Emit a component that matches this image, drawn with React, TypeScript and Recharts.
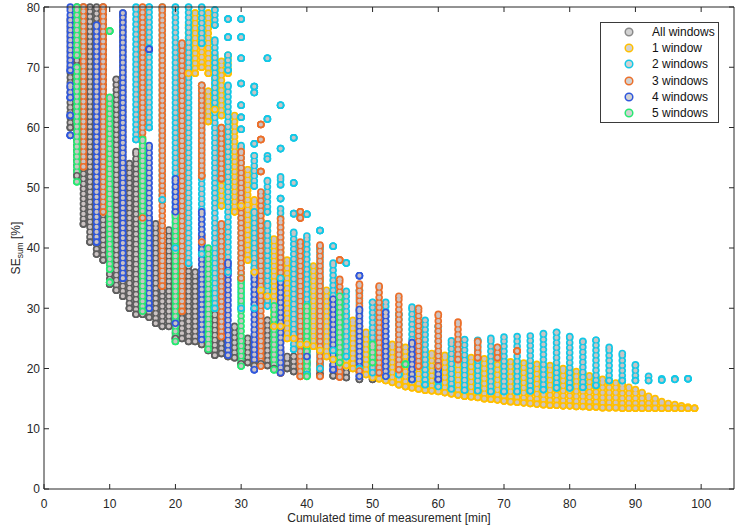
import React from 'react';
import { ScatterChart, Scatter, XAxis, YAxis, ErrorBar } from 'recharts';

type Seg = [number, number, number]; // [x, lowest y, highest y] of a column of markers

const xTicks = [0, 10, 20, 30, 40, 50, 60, 70, 80, 90, 100];
const yTicks = [0, 10, 20, 30, 40, 50, 60, 70, 80];
const seriesNames = ['All windows', '1 window', '2 windows', '3 windows', '4 windows', '5 windows'];
const seriesColors = ['#5e5e5e', '#ffbf00', '#12c8e6', '#ec6f2a', '#2f57dc', '#28e872'];
const legendColors = ['#8a8a8a', '#ffbf00', '#12c8e6', '#ec6f2a', '#2f57dc', '#28e872'];
const FILL = '#cbc3c3';

const allWindows: Seg[] = [
  [4, 60, 78], [5, 52, 80], [6, 44, 80], [7, 41, 80], [8, 39, 80], [9, 38, 80], [10, 34, 50], [11, 33, 68],
  [12, 32, 79], [13, 30, 54], [14, 29, 56], [15, 29, 45], [16, 28.5, 45], [17, 27.5, 44], [18, 27, 40],
  [19, 27, 43], [20, 25, 40], [21, 25, 35], [22, 24.5, 37], [23, 24.5, 36], [24, 24, 35], [25, 23, 33],
  [26, 22.2, 29], [27, 22.5, 28], [28, 22, 26], [29, 21.8, 27], [30, 20.8, 25], [31, 21, 25], [32, 20.5, 24],
  [33, 20.8, 24], [34, 20.5, 28], [35, 20, 23], [36, 19.3, 23], [37, 20, 22], [38, 19.5, 22], [40, 19, 21],
  [42, 19, 21], [44, 18.8, 20.5], [46, 18.5, 20], [48, 18.2, 20], [50, 18.2, 19.5],
];

const oneWindow: Seg[] = [
  [22, 69, 77], [23, 69, 79], [24, 70, 76], [25, 69, 79], [25, 61, 66], [26, 63, 72], [27, 62, 71], [27, 47, 60],
  [28, 69, 72], [29, 46, 62], [30, 47, 53], [31, 38, 53], [32, 36, 48], [33, 33, 46], [34, 32, 44], [35, 27, 41.5],
  [36, 27, 40], [37, 25, 38], [38, 25, 37], [39, 24, 36], [40, 24, 36], [41, 23.7, 37], [42, 23, 35], [43, 22, 33],
  [44, 21.5, 32], [45, 21, 30], [46, 20.5, 29], [47, 20, 28], [48, 19.5, 27], [49, 19, 26], [50, 18.5, 25],
  [51, 18.3, 24.5], [52, 18, 24.2], [53, 17.7, 24], [54, 17.3, 23.8], [55, 17, 23.5], [56, 16.8, 23.3],
  [57, 16.6, 23], [58, 16.4, 22.8], [59, 16.3, 22.5], [60, 16.2, 22.3], [61, 16, 22.2], [62, 15.8, 22.1],
  [63, 15.6, 22], [64, 15.4, 22], [65, 15.3, 21.8], [66, 15.2, 21.7], [67, 15, 21.6], [68, 14.9, 21.5],
  [69, 14.8, 21.4], [70, 14.6, 21.3], [71, 14.5, 21.1], [72, 14.4, 21], [73, 14.3, 20.9], [74, 14.2, 20.8],
  [75, 14.1, 20.7], [76, 14, 20.6], [77, 13.9, 20.5], [78, 13.9, 20.3], [79, 13.8, 20], [80, 13.8, 19.8],
  [81, 13.7, 19.5], [82, 13.7, 19.2], [83, 13.6, 18.8], [84, 13.6, 18.5], [85, 13.5, 18.2], [86, 13.5, 17.9],
  [87, 13.5, 17.6], [88, 13.4, 17.3], [89, 13.4, 16.9], [90, 13.4, 16.5], [91, 13.4, 16], [92, 13.4, 15.4],
  [93, 13.4, 15], [94, 13.4, 14.5], [95, 13.4, 14.2], [96, 13.4, 14], [97, 13.4, 13.8], [98, 13.4, 13.6],
  [99, 13.4, 13.4],
];

const twoWindows: Seg[] = [
  [14, 58, 80], [16, 60, 80], [18, 48, 80], [20, 40, 80], [22, 37.5, 80], [24, 74, 80], [24, 39, 67],
  [26, 77, 79.5], [26, 30, 74.5], [28, 78, 78], [28, 75, 75], [28, 69.5, 72], [28, 36, 67],
  [30, 78, 78], [30, 75, 75], [30, 71.5, 71.5], [30, 67.3, 67.3], [30, 63.7, 63.7], [30, 61.7, 61.7],
  [30, 59.7, 59.7], [30, 30, 57], [32, 66.8, 66.8], [32, 65.8, 65.8], [32, 57.3, 57.3], [32, 50.3, 55.3],
  [32, 30, 46], [34, 71.5, 71.5], [34, 61.4, 61.4], [34, 54.8, 55.3], [34, 46, 51.2], [34, 30.4, 44],
  [36, 63.7, 63.7], [36, 56.5, 56.5], [36, 50.5, 51.8], [36, 48.2, 48.2], [36, 35, 46.5],
  [38, 58.3, 58.3], [38, 50.8, 50.8], [38, 45.7, 45.7], [38, 23.2, 42.6], [40, 45.6, 45.6], [40, 19, 42],
  [42, 42.9, 42.9], [42, 20, 40], [44, 40.3, 40.3], [44, 23, 37.5], [46, 37.5, 37.5], [46, 22, 32.8],
  [48, 20, 33], [50, 19.3, 31], [52, 18.7, 31], [54, 19, 29], [56, 18.2, 30.2], [58, 17.3, 28], [60, 17, 27],
  [62, 16.6, 24.6], [64, 16.4, 24.8], [66, 16.3, 24.7], [68, 16.2, 25], [70, 16.2, 25.2], [72, 16.2, 25.3],
  [74, 16.3, 25.4], [76, 16.5, 25.8], [78, 16.8, 26], [80, 16.8, 25.3], [82, 16.9, 24.5], [84, 17.2, 24.7],
  [86, 18, 23.5], [88, 18, 22.5], [90, 18, 20.6], [92, 18, 18.7], [94, 18.1, 18.3], [96, 18.2, 18.3],
  [98, 18.3, 18.3],
];

const threeWindows: Seg[] = [
  [6, 53.5, 80], [9, 46, 80], [15, 45, 80], [18, 33.7, 80], [21, 29.5, 74], [24, 52, 67], [24, 41, 42],
  [27, 51.5, 60], [27, 25.3, 44], [30, 35, 56], [33, 60.5, 60.5], [33, 58, 58], [33, 52.7, 52.7],
  [33, 20.4, 49.3], [36, 19.3, 44.8], [39, 46, 46], [39, 45, 45], [39, 18.7, 41], [42, 18.7, 40.5],
  [45, 38, 38], [45, 18.6, 34.8], [48, 19.6, 34], [51, 19.3, 33.7], [54, 19.8, 32], [57, 20.4, 30],
  [60, 20.4, 29], [63, 21.5, 27.7], [66, 21.8, 24.5], [69, 21.8, 23.5], [72, 22.9, 22.9],
];

const fourWindows: Seg[] = [
  [4, 69.5, 80], [4, 65, 67], [4, 62, 62], [4, 58.7, 58.7], [8, 41, 77], [12, 35, 79], [16, 73, 73],
  [16, 30, 57], [20, 46, 51.5], [20, 27.5, 29], [24, 24.8, 46], [28, 22.2, 37.6], [32, 19.8, 35.4],
  [36, 19.3, 34.8], [40, 22, 24], [44, 19.8, 31.5], [48, 35.4, 35.4], [48, 18.7, 29.8], [52, 18.7, 29.3],
  [56, 18.2, 24.3], [60, 18.2, 20.4],
];

const fiveWindows: Seg[] = [
  [5, 72, 80], [5, 51, 70], [10, 76, 76], [10, 36.5, 65], [10, 34.3, 34.3], [15, 29.5, 58], [20, 24.5, 45.5],
  [25, 23.2, 40], [30, 20.4, 35], [35, 19.8, 30.4], [40, 18.7, 30.3], [45, 21, 32], [50, 21, 24], [55, 20.7, 20.7],
];

const seriesData: Seg[][] = [allWindows, oneWindow, twoWindows, threeWindows, fourWindows, fiveWindows];

const toRows = (segs: Seg[]) => segs.map(([x, lo, hi]) => ({ x, y: lo, err: [0, hi - lo] }));

const FONT = '"Liberation Sans", Arial, Helvetica, sans-serif';
const AXIS = '#262626';

// which (x, y) axis pair each series is bound to; all pairs share identical domains
const xIds = ['top', 'bticks', 'bottom', 'bottom', 'bottom', 'bottom'];
const yIds = ['right', 'lticks', 'left', 'left', 'left', 'left'];

const ringShape = (color: string) => (props: any) => (
  <circle cx={props.cx} cy={props.cy} r={2.9} fill={FILL} stroke={color} strokeWidth={1.6} />
);

const YLabel = (props: any) => {
  const vb = props.viewBox || { x: 0, y: 7, width: 44, height: 482 };
  const cx = vb.x + 20;
  const cy = vb.y + vb.height / 2;
  return (
    <text x={cx} y={cy} transform={`rotate(-90 ${cx} ${cy})`} textAnchor="middle" fontSize={12} fill={AXIS} fontFamily={FONT}>
      SE<tspan dy={3} fontSize={8.5}>sum</tspan><tspan dy={-3}> [%]</tspan>
    </text>
  );
};

const XLabel = (props: any) => {
  const vb = props.viewBox || { x: 44, y: 489, width: 690, height: 41 };
  return (
    <text x={vb.x + vb.width / 2} y={vb.y + 33} textAnchor="middle" fontSize={12} fill={AXIS} fontFamily={FONT}>
      Cumulated time of measurement [min]
    </text>
  );
};

const LegendBox = () => (
  <div
    style={{
      position: 'absolute', left: 600, top: 22, width: 119, height: 101, boxSizing: 'border-box',
      border: '1px solid #3a3a3a', background: '#fff', fontFamily: FONT, fontSize: 12, color: '#111', paddingTop: 1,
    }}
  >
    {seriesNames.map((name, i) => (
      <div key={name} style={{ height: 16.2, position: 'relative' }}>
        <svg width={12} height={12} style={{ position: 'absolute', left: 22, top: 2 }}>
          <circle cx={6} cy={6} r={3.8} fill="#d2d2d2" stroke={legendColors[i]} strokeWidth={1.5} />
        </svg>
        <span style={{ position: 'absolute', left: 51, top: 0, lineHeight: '16px', whiteSpace: 'nowrap' }}>{name}</span>
      </div>
    ))}
  </div>
);

const hiddenTick = { fill: 'none', fontSize: 1 };

export default function App() {
  return (
    <div style={{ position: 'absolute', left: 0, top: 0, width: 737, height: 530, background: '#fff', fontFamily: FONT }}>
      <ScatterChart width={737} height={530} margin={{ top: 7, right: 3, bottom: 0, left: 0 }}>
        {/* labelled axes */}
        <XAxis
          xAxisId="bottom" orientation="bottom" type="number" dataKey="x" domain={[0, 105]} ticks={xTicks} height={41}
          tickSize={5} tickMargin={5} tickLine={false} axisLine={false}
          tick={{ fill: AXIS, fontSize: 12, fontFamily: FONT }} label={<XLabel />}
        />
        <YAxis
          yAxisId="left" orientation="left" type="number" dataKey="y" domain={[0, 80]} ticks={yTicks} width={44}
          tickSize={2} tickMargin={2} tickLine={false} axisLine={false}
          tick={{ fill: AXIS, fontSize: 12, fontFamily: FONT }} label={<YLabel />}
        />
        {/* box edges with inward tick marks */}
        <XAxis
          xAxisId="bticks" orientation="bottom" mirror type="number" dataKey="x" domain={[0, 105]} ticks={xTicks} height={1}
          tickSize={5} tick={hiddenTick} stroke={AXIS} tickLine={{ stroke: AXIS }} axisLine={{ stroke: AXIS }}
        />
        <XAxis
          xAxisId="top" orientation="top" mirror type="number" dataKey="x" domain={[0, 105]} ticks={xTicks} height={1}
          tickSize={5} tick={hiddenTick} stroke={AXIS} tickLine={{ stroke: AXIS }} axisLine={{ stroke: AXIS }}
        />
        <YAxis
          yAxisId="lticks" orientation="left" mirror type="number" dataKey="y" domain={[0, 80]} ticks={yTicks} width={1}
          tickSize={5} tick={hiddenTick} stroke={AXIS} tickLine={{ stroke: AXIS }} axisLine={{ stroke: AXIS }}
        />
        <YAxis
          yAxisId="right" orientation="right" mirror type="number" dataKey="y" domain={[0, 80]} ticks={yTicks} width={1}
          tickSize={5} tick={hiddenTick} stroke={AXIS} tickLine={{ stroke: AXIS }} axisLine={{ stroke: AXIS }}
        />
        {seriesData.map((segs, i) => (
          <Scatter
            key={seriesNames[i]}
            name={seriesNames[i]}
            data={toRows(segs)}
            xAxisId={xIds[i]}
            yAxisId={yIds[i]}
            fill={FILL}
            shape={ringShape(seriesColors[i])}
            isAnimationActive={false}
          >
            <ErrorBar
              dataKey="err" direction="y" width={0} stroke={seriesColors[i]} strokeWidth={7.6}
              strokeLinecap="round" strokeDasharray="0.01 5" isAnimationActive={false}
            />
            <ErrorBar
              dataKey="err" direction="y" width={0} stroke={FILL} strokeWidth={4.2}
              strokeLinecap="round" strokeDasharray="0.01 5" isAnimationActive={false}
            />
          </Scatter>
        ))}
      </ScatterChart>
      <LegendBox />
    </div>
  );
}
